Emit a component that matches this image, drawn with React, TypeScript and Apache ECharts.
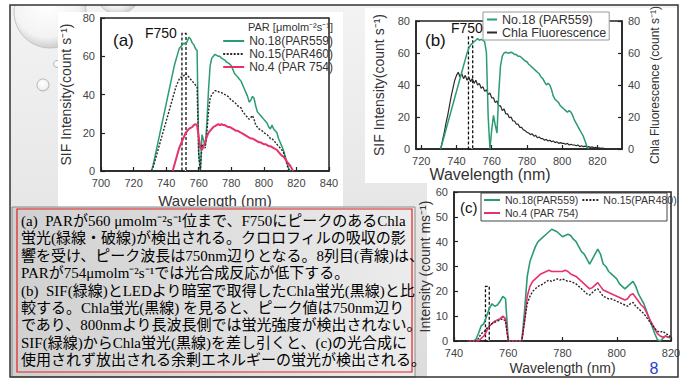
import React, { useEffect, useRef } from "react";
import * as echarts from "echarts";

// ---------- DATA ----------
// (a) SIF spectra, 1 nm steps
const A_GREEN_START = 731; // No.18(PAR559)
const aGreen = [0,3,7,11,15,19,23,27,31,35,39,43,47,51,55,58,61,64,65,66,67,66,68,70,69,67,66,64,63,10,0,19,16,13,25,42,55,59,60,61,60.5,60,60,59,58.5,58,57,56.5,56,55,53,51,50,49,48,47,45,43,41,39,36,37,39,38,34,31,30,29,28,27,26,25,23,22,24,22,21,20,17,15,13,11,8,5,2,0];
const A_BLACK_START = 731; // No.15(PAR460)
const aBlack = [0,2,5,8,11,14,17,20,23,26,29,32,35,38,41,44,46,48,49,49,50,51,50,49,48,47,46,45,44,8,0,14,13,12,20,31,38,40,41,42,42,41.5,41,41,40.5,40,39.5,39,38,37,36.5,36,35,34,33.5,33,31,30,29,28,27,28,29,27,24,23,22,21.5,21,20,19.5,19,18,17,17,16,15,14,13,12,11,10,7,4,1,0];
const A_PINK_START = 744; // No.4 (PAR 754)
const aPink = [0,3,6,9,12,14,16,18,20,21,22,22.5,23,24,24.5,24,18,12,11,13,15,18,20,21,22,23,23.5,24,24.5,24,24.5,24,24,23.5,23,23,22.5,22,21.5,21,21,20.5,20,19.5,19,18.5,18,17.5,17,17,16.5,16,15.5,15,15,14.5,14,14,13.5,13,13,12.5,12,11.5,11,10,9,8,7.5,6.5,5,4,3,1.5,0];

// (b) SIF vs Chla fluorescence
const B_GREEN_START = 731; // No.18 (PAR559)
const bGreen = [0,4,8,12,16,20,24,28,32,36,40,44,48,52,56,60,63,65,66,67,68,69,68,68.5,68,67,60,20,0,12,21,15,10,35,52,58,60,60.5,60,60,60.5,60,59,59,58,58,57,56,55,54.5,53,52,51,50,49,48,47,45,44,42,40,41,40,37,33,31,30,29,27,26,25,24,23,24,23,21,18,16,14,12,10,8,5,2,0];
const B_CHLA_START = 731; // Chla Fluorescence
const bChla = [0,5,10,16,21,27,33,38,43,46,48,45,47,44,46,43,45,42,44,41,43,40,41,38,39,36,37,34,35,32,32,29,30,27,27,24,25,22,22,19.5,20,17.5,17.5,15.5,15.5,13.5,13.5,12,11.5,10.5,10,9,9.5,8,8.5,7,7.5,6.5,6.5,5.5,6,5,5.5,4.5,5,4,4.5,3.5,4,3.5,3.5,3,3.5,2.5,3,2.5,2.5,2,2.5,1.5,2,1.5,1.8,1.2,1.5,1,1.3,0.8,1,0.6,0.8,0.4,0.6,0.3,0.2];

// (c) difference spectra
const C_START = 745;
const cGreen = [0,0,0,0.5,3,6,7,10,13,15,14,14.5,16,18,17,0,0,0,0,0,0,12,26,32,35,38,40,41,42,43,44,45,44.5,44,43,42,42.5,43,42.5,41,40,38,36,35,33,31,33,35,37,35,31,30,28,27,26,25,23,22,21,22,23,24,22,19,17,15,12,9,6,3,0.5,0,1,2,1.5,1];
const cPink = [0,0,0,0,0,1,2,4,6,7,8,8.5,9,10,9,0,0,0,0,0,0,8,18,22,24,25,26,27,27.5,28,28.5,28,28,28,28,28,28.5,28,27,26.5,26,25,24,23,22,21,21.5,22.5,23.5,22,20.5,20,19.5,19,18.5,18,17.5,17,16.5,17,18.5,19,17.5,16,14.5,13.5,11.5,9,7,5,3,2,1.5,2,1.5,2];
const cBlack = [0,0,0,0,1,3,3.5,5,6,7,7.5,8,8.5,9,8,0,0,0,0,0,0,8,15,18,20,21,22,22.5,23,24,24.5,24,24.5,25,24.5,25,24.5,24,24,23.5,23,22,21,20,19,18.5,19.5,20.5,21,19.5,18,17.5,17,17,16.5,16,15.5,15,14.5,14,15,15.5,14,13,12,11,9.5,8,6.5,5,4,3.5,4,3,2.5,1.5];

// F750 marker bands [from nm, to nm, top value]
const aF750 = [749.7, 752.2, 72];
const bF750 = [746.8, 749.2, 70];
const cF750 = [751.6, 753.0, 22];

const bTicks = [720, 740, 760, 780, 800, 820];

const textLines = [
  "(a)  PARが560 μmolm⁻²s⁻¹位まで、F750にピークのあるChla",
  "蛍光(緑線・破線)が検出される。クロロフィルの吸収の影",
  "響を受け、ピーク波長は750nm辺りとなる。8列目(青線)は、",
  "PARが754μmolm⁻²s⁻¹では光合成反応が低下する。",
  "(b)  SIF(緑線)とLEDより暗室で取得したChla蛍光(黒線)と比",
  "較する。Chla蛍光(黒線) を見ると、ピーク値は750nm辺り",
  "であり、800nmより長波長側では蛍光強度が検出されない。",
  "SIF(緑線)からChla蛍光(黒線)を差し引くと、(c)の光合成に",
  "使用されず放出される余剰エネルギーの蛍光が検出される。",
];

// ---------- STYLE ----------
const SANS = "'Liberation Sans', Arial, sans-serif";
const SERIF = "'Liberation Serif', 'Noto Sans CJK JP', serif";
const GREEN = "#2b9c70";
const PINK = "#e8306a";
const DARK = "#2a2a2a";

const pairs = (start: number, vals: number[]) => vals.map((v, i) => [start + i, v]);

const axisBase = (extra: any) => ({
  axisLine: { show: true, onZero: false, lineStyle: { color: "#222", width: 1.5 } },
  axisTick: { show: true, inside: true, length: 4, lineStyle: { color: "#222", width: 1.2 } },
  axisLabel: { color: "#444", fontSize: 11, fontFamily: SANS, margin: 6 },
  splitLine: { show: false },
  nameTextStyle: { color: "#333", fontFamily: SANS, fontSize: 14 },
  ...extra,
});

const bandSeries = (xi: number, yi: number, band: number[]) => ({
  type: "line",
  xAxisIndex: xi,
  yAxisIndex: yi,
  data: [[band[0], 0]],
  symbol: "none",
  lineStyle: { opacity: 0 },
  z: 6,
  silent: true,
  markArea: {
    silent: true,
    itemStyle: { color: "rgba(255,255,255,0.9)", borderColor: "#111", borderWidth: 1.3, borderType: [3, 2] },
    data: [[{ coord: [band[0], 0] }, { coord: [band[1], band[2]] }]],
  },
});

const line = (name: string, xi: number, yi: number, data: number[][], color: string, width: number, type: any = "solid") => ({
  name,
  type: "line",
  xAxisIndex: xi,
  yAxisIndex: yi,
  data,
  symbol: "none",
  showSymbol: false,
  lineStyle: { color, width, type },
  itemStyle: { color },
});

const txt = (text: string, x: number, y: number, size: number, extra: any = {}) => ({
  type: "text",
  x,
  y,
  z: 50,
  style: { text, fontSize: size, fontFamily: SANS, fill: "#111", align: "left", verticalAlign: "middle", ...extra },
});

const legendBase = {
  padding: 0,
  align: "left",
  itemStyle: { opacity: 0 },
};

export default function App() {
  const ref = useRef<HTMLDivElement>(null);
  useEffect(() => {
    if (!ref.current) return;
    const chart = echarts.init(ref.current, null, { renderer: "svg" });

    const bubbleFill = {
      type: "radial", x: 0.45, y: 0.4, r: 0.6,
      colorStops: [
        { offset: 0, color: "#ffffff" },
        { offset: 0.75, color: "#f3f3f3" },
        { offset: 1, color: "#cfcfcf" },
      ],
    };

    const graphic: any[] = [
      { type: "rect", z: -30, shape: { x: 10, y: 5, width: 668, height: 372 },
        style: { fill: { type: "linear", x: 0, y: 0, x2: 0, y2: 1, colorStops: [{ offset: 0, color: "#f3f3f3" }, { offset: 1, color: "#dcdcdc" }] } } },
      { type: "circle", z: -25, shape: { cx: 50, cy: 12, r: 36 }, style: { fill: bubbleFill, stroke: "#c4c4c4", lineWidth: 1 } },
      { type: "circle", z: -25, shape: { cx: 118, cy: -8, r: 22 }, style: { fill: bubbleFill, stroke: "#c4c4c4", lineWidth: 1 } },
      { type: "circle", z: -25, shape: { cx: 43, cy: 85, r: 6 }, style: { fill: bubbleFill, stroke: "#b8b8b8", lineWidth: 1 } },
      { type: "circle", z: -25, shape: { cx: 57, cy: 64, r: 3.5 }, style: { fill: bubbleFill, stroke: "#b8b8b8", lineWidth: 1 } },
      { type: "rect", z: -20, shape: { x: 0, y: 0, width: 685, height: 5 }, style: { fill: "#ffffff" } },
      // chart image backgrounds
      { type: "rect", z: -10, shape: { x: 58, y: 12, width: 285, height: 196 }, style: { fill: "#ffffff" } },
      { type: "rect", z: -10, shape: { x: 365, y: 8, width: 312, height: 175 }, style: { fill: "#ffffff" } },
      { type: "rect", z: -10, shape: { x: 427, y: 183, width: 250, height: 194 }, style: { fill: "#ffffff" } },
      // legend box (c)
      { type: "rect", z: -5, shape: { x: 481, y: 193, width: 186, height: 28 }, style: { fill: "#ffffff", stroke: "#444", lineWidth: 1 } },
      // panel labels
      txt("(a)", 113, 40, 17),
      txt("F750", 145, 33, 14),
      txt("(b)", 425, 40, 17),
      txt("F750", 451, 28, 14),
      txt("(c)", 460, 207, 15),
      txt("PAR [μmolm⁻²s⁻¹]", 333, 27, 11, { align: "right", fill: "#333" }),
      txt("8", 654, 368, 16, { fill: "#1f3fd0", align: "center" }),
      // text box
      { type: "rect", z: 100, shape: { x: 12, y: 207, width: 403, height: 170 },
        style: { fill: { type: "linear", x: 0, y: 0, x2: 1, y2: 0, colorStops: [{ offset: 0, color: "#d0d0d0" }, { offset: 1, color: "#ececec" }] }, stroke: "#8a8a8a", lineWidth: 1 } },
      { type: "rect", z: 101, shape: { x: 17, y: 209, width: 395, height: 163 }, style: { fill: "none", stroke: "#e02020", lineWidth: 1.2 } },
      ...textLines.map((t, i) => ({
        type: "text", z: 102, x: 21, y: 221 + i * 17.4,
        style: { text: t, fontSize: 15, fontFamily: SERIF, fill: "#000", align: "left", verticalAlign: "middle" },
      })),
      // slide frame
      { type: "rect", z: 200, shape: { x: 10, y: 5, width: 668, height: 372 }, style: { fill: "none", stroke: "#333", lineWidth: 1.5 } },
    ];

    const option: any = {
      animation: false,
      backgroundColor: "#ffffff",
      textStyle: { fontFamily: SANS },
      grid: [
        { left: 101, top: 18, width: 228, height: 153, show: true, borderColor: "#222", borderWidth: 1.5, backgroundColor: "transparent", outerBoundsMode: "none" },
        { left: 416, top: 21, width: 206, height: 128, show: true, borderColor: "#222", borderWidth: 1.5, backgroundColor: "transparent", outerBoundsMode: "none" },
        { left: 454, top: 192, width: 217, height: 149, show: true, borderColor: "#222", borderWidth: 1.5, backgroundColor: "transparent", outerBoundsMode: "none" },
      ],
      xAxis: [
        axisBase({ gridIndex: 0, type: "value", min: 700, max: 840, interval: 20, name: "Wavelength (nm)", nameLocation: "middle", nameGap: 22,
          nameTextStyle: { color: "#333", fontFamily: SANS, fontSize: 15 } }),
        axisBase({ gridIndex: 1, type: "value", min: 717, max: 834, name: "Wavelength (nm)", nameLocation: "middle", nameGap: 15,
          axisLabel: { color: "#444", fontSize: 11, fontFamily: SANS, margin: 6, customValues: bTicks },
          axisTick: { show: true, inside: true, length: 4, lineStyle: { color: "#222", width: 1.2 }, customValues: bTicks },
          nameTextStyle: { color: "#333", fontFamily: SANS, fontSize: 16, padding: [0, 58, 0, 0] } }),
        axisBase({ gridIndex: 2, type: "value", min: 740, max: 820, interval: 20, name: "Wavelength (nm)", nameLocation: "middle", nameGap: 20,
          nameTextStyle: { color: "#333", fontFamily: SANS, fontSize: 14 } }),
      ],
      yAxis: [
        axisBase({ gridIndex: 0, type: "value", min: 0, max: 80, interval: 20, name: "SIF Intensity(count s⁻¹)", nameLocation: "middle", nameGap: 28, nameRotate: 90 }),
        axisBase({ gridIndex: 1, type: "value", min: 0, max: 80, interval: 20, name: "SIF Intensity(count s⁻¹)", nameLocation: "middle", nameGap: 30, nameRotate: 90,
          nameTextStyle: { color: "#333", fontFamily: SANS, fontSize: 14 } }),
        axisBase({ gridIndex: 1, type: "value", position: "right", min: 0, max: 80, interval: 20, name: "Chla Fluorescence (count s⁻¹)", nameLocation: "middle", nameGap: 27, nameRotate: 90,
          nameTextStyle: { color: "#333", fontFamily: SANS, fontSize: 12 } }),
        axisBase({ gridIndex: 2, type: "value", min: 0, max: 60, interval: 10, name: "Intensity (count ms⁻¹)", nameLocation: "middle", nameGap: 18, nameRotate: 90 }),
      ],
      legend: [
        { ...legendBase, orient: "vertical", right: 352, top: 35, itemGap: 1, itemWidth: 21, itemHeight: 8,
          textStyle: { fontSize: 12, lineHeight: 12, color: "#333", fontFamily: SANS },
          data: ["No.18(PAR559)", "No.15(PAR460)", "No.4 (PAR 754)"] },
        { ...legendBase, orient: "vertical", left: 483, top: 12, padding: [1, 3, 1, 3], itemGap: 0, itemWidth: 10, itemHeight: 8,
          borderColor: "#999", borderWidth: 1, backgroundColor: "#ffffff",
          textStyle: { fontSize: 12.5, lineHeight: 12, color: "#333", fontFamily: SANS },
          data: ["No.18 (PAR559)", "Chla Fluorescence"] },
        { ...legendBase, orient: "horizontal", left: 483, top: 194, itemGap: 3, itemWidth: 16, itemHeight: 8,
          textStyle: { fontSize: 10.5, lineHeight: 12, color: "#333", fontFamily: SANS },
          data: ["No.18(PAR559)", "No.15(PAR480)"] },
        { ...legendBase, orient: "horizontal", left: 483, top: 207, itemGap: 3, itemWidth: 16, itemHeight: 8,
          textStyle: { fontSize: 10.5, lineHeight: 12, color: "#333", fontFamily: SANS },
          data: ["No.4 (PAR 754)"] },
      ],
      series: [
        line("No.18(PAR559)", 0, 0, pairs(A_GREEN_START, aGreen), GREEN, 1.5),
        line("No.15(PAR460)", 0, 0, pairs(A_BLACK_START, aBlack), DARK, 1.4, [2, 1.5]),
        line("No.4 (PAR 754)", 0, 0, pairs(A_PINK_START, aPink), PINK, 2),
        bandSeries(0, 0, aF750),
        line("Chla Fluorescence", 1, 2, pairs(B_CHLA_START, bChla), DARK, 1.2),
        line("No.18 (PAR559)", 1, 1, pairs(B_GREEN_START, bGreen), GREEN, 1.5),
        bandSeries(1, 1, bF750),
        line("No.18(PAR559)", 2, 3, pairs(C_START, cGreen), GREEN, 1.6),
        line("No.4 (PAR 754)", 2, 3, pairs(C_START, cPink), PINK, 1.6),
        line("No.15(PAR480)", 2, 3, pairs(C_START, cBlack), DARK, 1.4, [2, 1.5]),
        bandSeries(2, 3, cF750),
      ],
      graphic,
    };
    chart.setOption(option);
    return () => chart.dispose();
  }, []);
  return <div ref={ref} style={{ position: "fixed", left: 0, top: 0, width: 685, height: 383 }} />;
}
